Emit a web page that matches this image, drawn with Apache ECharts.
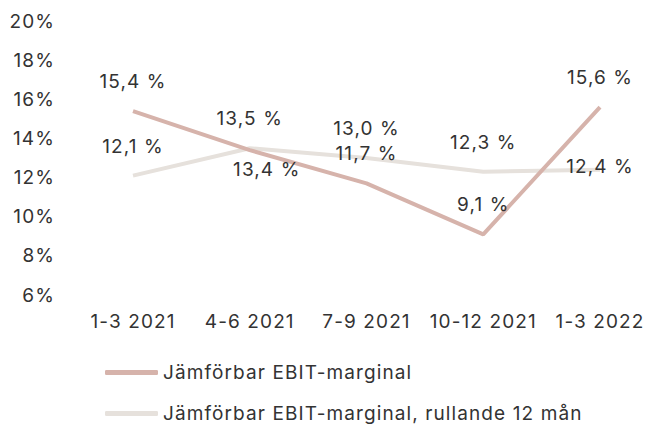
<!DOCTYPE html>
<html><head><meta charset="utf-8">
<script src="https://cdn.jsdelivr.net/npm/echarts@6/dist/echarts.min.js"></script>
<style>html,body{margin:0;padding:0;background:#fff}#c{width:650px;height:425px}#c text{letter-spacing:1.1px}</style>
</head><body><div id="c"></div>
<script>
const categories = ['1-3 2021','4-6 2021','7-9 2021','10-12 2021','1-3 2022'];
const ebit = [15.4, 13.4, 11.7, 9.1, 15.6];
const ebitRolling = [12.1, 13.5, 13.0, 12.3, 12.4];
const seriesNames = ['Jämförbar EBIT-marginal','Jämförbar EBIT-marginal, rullande 12 mån'];
const yTicks = {min: 6, max: 20, interval: 2};

const font = 'Inter';
const txt = '#333333';
const fs = 19;
const fmt = v => v.toFixed(1).replace('.', ',') + ' %';
const c1 = '#d6b3ab', c2 = '#e6e1dc';

const chart = echarts.init(document.getElementById('c'), null, {renderer:'svg'});
chart.setOption({
  animation: false,
  textStyle: {fontFamily: font},
  grid: {left: 133, right: 50, top: 21, bottom: 130},
  legend: {
    orient: 'vertical', left: 105, top: 362, padding: 0, itemWidth: 53, itemHeight: 5, itemGap: 20,
    textStyle: {fontFamily: font, fontSize: fs, color: txt, lineHeight: 21},
    data: [
      {name: seriesNames[0], icon: 'roundRect', itemStyle: {color: c1}},
      {name: seriesNames[1], icon: 'roundRect', itemStyle: {color: c2}}
    ]
  },
  xAxis: {
    type: 'category', data: categories, boundaryGap: false,
    axisLine: {show: false}, axisTick: {show: false},
    axisLabel: {interval: 0, fontFamily: font, fontSize: fs, color: txt, margin: 17}
  },
  yAxis: {
    type: 'value', min: yTicks.min, max: yTicks.max, interval: yTicks.interval,
    splitLine: {show: false}, axisLine: {show: false}, axisTick: {show: false},
    axisLabel: {fontFamily: font, fontSize: fs, color: txt, margin: 78, formatter: v => v + '%'}
  },
  series: [
    {
      name: seriesNames[0], type: 'line', symbol: 'circle', symbolSize: 0.01, showSymbol: true, z: 3,
      lineStyle: {color: c1, width: 4}, itemStyle: {color: c1},
      label: {show: true, position: 'top', distance: 20, fontFamily: font, fontSize: fs, color: txt, formatter: p => fmt(p.value)},
      data: ebit.map((v, i) => i === 1 ? {value: v, label: {position: 'bottom', distance: 10, offset: [17, 0]}} : v)
    },
    {
      name: seriesNames[1], type: 'line', symbol: 'circle', symbolSize: 0.01, showSymbol: true, z: 2,
      lineStyle: {color: c2, width: 4}, itemStyle: {color: c2},
      label: {show: true, position: 'top', distance: 20, fontFamily: font, fontSize: fs, color: txt, formatter: p => fmt(p.value)},
      data: ebitRolling.map((v, i) => i === 4 ? {value: v, label: {position: 'inside', offset: [0, -3]}} : v)
    }
  ]
});
</script></body></html>
